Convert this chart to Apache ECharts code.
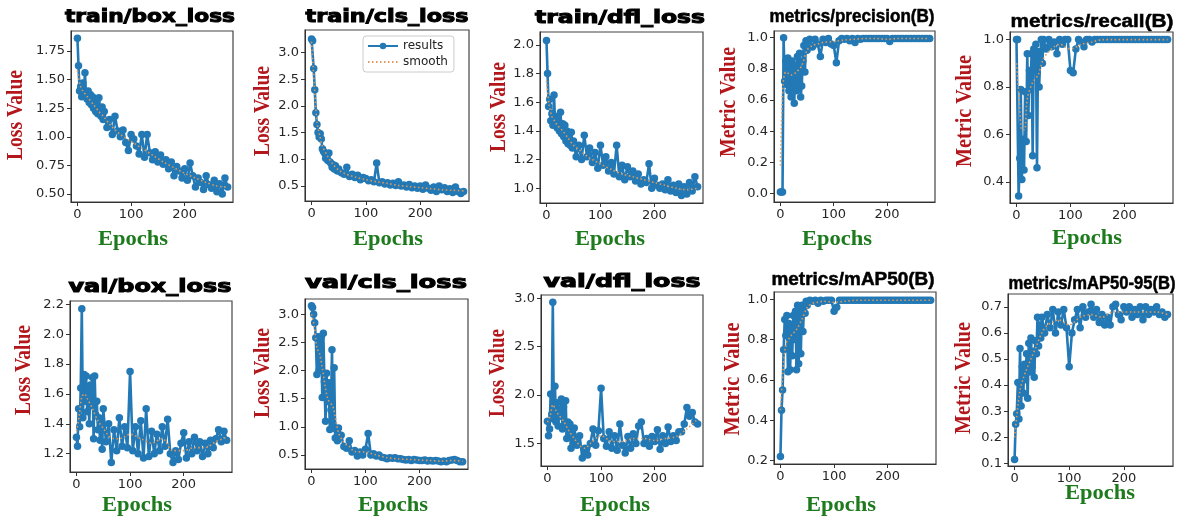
<!DOCTYPE html>
<html><head><meta charset="utf-8">
<script src="https://cdn.jsdelivr.net/npm/echarts@6/dist/echarts.min.js"></script>
<style>html,body{margin:0;padding:0;background:#fff}#c{width:1181px;height:517px}</style>
</head><body><div id="c"></div>
<script>
// ---------- DATA ----------
const epochs = [0,2,4,6,8,10,12,14,16,18,20,22,24,26,28,30,32,34,36,38,40,42,44,46,48,50,
  55,60,65,70,75,80,85,90,95,100,105,110,115,120,125,130,135,140,145,150,155,160,165,170,175,180,
  185,190,195,200,205,210,215,220,225,230,235,240,245,250,255,260,265,270,275,280];
const smoothEpochs = [0,5,10,15,20,30,40,50,60,70,80,100,120,140,160,180,200,220,240,260,280];

const trainBoxLoss = [1.86,1.62,1.40,1.44,1.35,1.47,1.38,1.56,1.36,1.33,1.40,1.30,1.37,1.28,1.35,1.25,1.33,1.22,1.30,1.20,1.34,1.22,1.18,1.26,1.15,1.22,
  1.08,1.15,1.02,1.18,1.05,1.00,1.06,0.95,0.88,1.02,0.98,0.92,0.85,1.02,0.82,1.02,0.86,0.80,0.87,0.78,0.84,0.76,0.80,0.72,0.78,0.66,0.74,0.70,0.64,0.72,0.62,0.77,0.66,0.56,0.64,0.60,0.54,0.66,0.58,0.55,0.62,0.52,0.59,0.50,0.64,0.56];
const trainClsLoss = [3.25,3.22,2.70,2.30,1.87,1.65,1.50,1.42,1.48,1.38,1.20,1.15,1.12,1.02,1.08,0.98,1.12,0.95,0.92,0.85,0.90,0.82,0.88,0.80,0.78,0.82,
  0.75,0.72,0.85,0.68,0.72,0.66,0.70,0.62,0.66,0.64,0.60,0.62,0.58,0.93,0.56,0.58,0.54,0.56,0.52,0.55,0.51,0.58,0.50,0.52,0.48,0.53,0.47,0.50,0.46,0.50,0.44,0.52,0.46,0.42,0.48,0.40,0.50,0.43,0.47,0.40,0.45,0.38,0.48,0.40,0.36,0.40];
const trainDflLoss = [2.03,1.80,1.57,1.62,1.47,1.52,1.44,1.65,1.45,1.50,1.42,1.48,1.40,1.53,1.38,1.45,1.36,1.44,1.33,1.40,1.31,1.36,1.30,1.39,1.28,1.33,
  1.22,1.30,1.20,1.37,1.22,1.28,1.18,1.25,1.14,1.30,1.16,1.22,1.12,1.18,1.10,1.30,1.08,1.16,1.06,1.15,1.08,1.12,1.05,1.10,1.03,1.06,1.04,1.17,1.00,1.07,1.02,1.00,1.03,0.99,1.06,0.98,1.02,0.97,1.03,0.95,1.01,0.96,1.04,0.98,1.08,1.01];
const precisionB = [0.01,0.01,0.01,1.00,0.72,0.85,0.70,0.87,0.66,0.82,0.62,0.85,0.75,0.58,0.82,0.66,0.88,0.70,0.90,0.62,0.69,0.85,0.95,0.78,0.98,0.92,
  0.99,0.94,0.99,0.96,0.88,0.99,0.97,0.995,0.96,0.95,0.84,0.98,0.995,0.99,0.995,0.98,0.995,0.97,0.995,0.99,0.995,0.995,0.995,0.995,0.995,0.995,0.995,0.995,0.995,0.995,0.975,0.995,0.995,0.995,0.995,0.995,0.995,0.995,0.995,0.995,0.995,0.995,0.995,0.995,0.995,0.995];
const recallB = [1.00,1.00,0.34,0.50,0.79,0.41,0.58,0.45,0.78,0.57,0.94,0.68,0.87,0.79,0.94,0.51,0.96,0.87,0.98,0.46,0.95,0.80,0.92,1.00,0.90,1.00,
  0.96,1.00,0.97,0.99,0.94,1.00,0.98,1.00,1.00,0.87,0.86,0.96,1.00,0.99,0.97,1.00,1.00,0.99,1.00,1.00,
  1.00,1.00,1.00,1.00,1.00,1.00,1.00,1.00,1.00,1.00,1.00,1.00,1.00,1.00,1.00,1.00,1.00,1.00,1.00,1.00,1.00,1.00,1.00,1.00,1.00,1.00];
const valBoxLoss = [1.31,1.25,1.50,1.38,1.64,2.17,1.44,1.73,1.55,1.72,1.48,1.62,1.40,1.66,1.52,1.71,1.30,1.72,1.46,1.55,1.36,1.44,1.29,1.40,1.23,1.50,
  1.28,1.40,1.14,1.36,1.22,1.44,1.25,1.38,1.24,1.75,1.22,1.38,1.20,1.42,1.17,1.50,1.18,1.35,1.20,1.33,1.22,1.38,1.25,1.43,1.20,1.14,1.22,1.16,1.27,1.34,1.17,1.28,1.20,1.31,1.22,1.28,1.18,1.27,1.20,1.29,1.24,1.30,1.36,1.28,1.35,1.29];
const valClsLoss = [3.15,3.12,3.00,2.85,2.58,1.93,2.60,2.00,2.45,2.60,1.52,2.66,1.80,1.10,1.95,1.45,1.78,0.95,1.30,2.37,1.05,2.05,0.80,0.95,0.75,0.98,
  0.85,0.65,0.62,0.75,0.55,0.58,0.48,0.55,0.50,0.60,0.88,0.50,0.52,0.48,0.50,0.46,0.45,0.43,0.45,0.44,0.45,0.43,0.43,0.42,0.41,0.42,0.40,0.42,0.41,0.40,0.40,0.41,0.39,0.40,0.39,0.40,0.39,0.38,0.39,0.38,0.40,0.41,0.42,0.40,0.38,0.38];
const valDflLoss = [1.73,1.58,1.65,2.01,1.80,2.96,1.75,2.09,1.72,1.92,1.68,1.85,1.78,1.96,1.65,1.88,1.70,1.94,1.55,1.72,1.60,1.70,1.45,1.62,1.50,1.66,
  1.48,1.58,1.35,1.45,1.38,1.50,1.65,1.48,1.63,2.07,1.55,1.47,1.62,1.45,1.58,1.43,1.70,1.48,1.40,1.57,1.45,1.60,1.50,1.68,1.72,1.50,1.55,1.47,1.57,1.52,1.64,1.44,1.58,1.50,1.67,1.52,1.58,1.53,1.62,1.62,1.70,1.87,1.78,1.82,1.72,1.70];
const mAP50B = [0.22,0.45,0.55,0.75,0.90,0.82,0.92,0.64,0.88,0.65,0.85,0.72,0.92,0.80,0.94,0.65,0.97,0.68,0.96,0.73,0.97,0.84,0.96,0.93,0.99,0.97,
  0.995,0.99,0.995,0.98,0.995,0.99,0.995,0.995,0.995,0.94,0.96,0.995,
  0.995,0.995,0.995,0.995,0.995,0.995,0.995,0.995,0.995,0.995,0.995,0.995,0.995,0.995,0.995,0.995,0.995,0.995,0.995,0.995,0.995,0.995,0.995,0.995,0.995,0.995,0.995,0.995,0.995,0.995,0.995,0.995,0.995,0.995];
const mAP5095B = [0.115,0.25,0.29,0.41,0.27,0.54,0.32,0.47,0.37,0.48,0.42,0.52,0.35,0.56,0.45,0.58,0.47,0.53,0.43,0.57,0.52,0.66,0.55,0.63,0.58,0.66,
  0.60,0.67,0.62,0.69,0.60,0.68,0.63,0.69,0.62,0.47,0.60,0.65,0.69,0.62,0.70,0.66,0.68,0.71,0.66,0.69,0.64,0.67,0.63,0.66,0.63,0.70,0.71,0.67,0.65,0.70,0.68,0.70,0.66,0.69,0.67,0.70,0.65,0.70,0.67,0.69,0.68,0.70,0.67,0.68,0.66,0.67];

const trainBoxSmooth = [1.58,1.45,1.40,1.37,1.34,1.28,1.22,1.17,1.11,1.06,1.02,0.96,0.90,0.84,0.78,0.73,0.68,0.64,0.60,0.57,0.56];
const trainClsSmooth = [3.20,2.40,1.70,1.45,1.25,1.05,0.90,0.80,0.74,0.70,0.67,0.62,0.58,0.55,0.51,0.49,0.47,0.45,0.43,0.42,0.41];
const trainDflSmooth = [1.75,1.58,1.50,1.47,1.44,1.40,1.35,1.30,1.27,1.24,1.21,1.17,1.13,1.10,1.08,1.06,1.04,1.02,1.00,0.99,1.00];
const precisionSmooth = [0.18,0.70,0.78,0.77,0.76,0.78,0.82,0.92,0.95,0.96,0.97,0.975,0.985,0.99,0.995,0.995,0.99,0.995,0.995,0.995,0.995];
const recallSmooth = [0.90,0.75,0.62,0.62,0.75,0.82,0.85,0.92,0.95,0.97,0.98,0.96,0.98,0.99,1.0,1.0,1.0,1.0,1.0,1.0,1.0];
const valBoxSmooth = [1.35,1.45,1.58,1.60,1.57,1.50,1.42,1.37,1.32,1.30,1.30,1.33,1.30,1.27,1.30,1.22,1.22,1.24,1.24,1.28,1.31];
const valClsSmooth = [3.00,2.80,2.40,2.30,2.05,1.50,1.35,0.90,0.72,0.65,0.56,0.55,0.50,0.45,0.43,0.42,0.41,0.40,0.39,0.40,0.39];
const valDflSmooth = [1.72,1.78,1.90,1.85,1.80,1.73,1.63,1.55,1.48,1.45,1.50,1.58,1.52,1.52,1.55,1.55,1.53,1.55,1.57,1.65,1.75];
const mAP50Smooth = [0.45,0.65,0.78,0.80,0.82,0.85,0.90,0.96,0.98,0.985,0.99,0.985,0.99,0.995,0.995,0.995,0.995,0.995,0.995,0.995,0.995];
const mAP5095Smooth = [0.20,0.30,0.38,0.42,0.45,0.50,0.55,0.60,0.63,0.64,0.65,0.63,0.66,0.67,0.66,0.68,0.68,0.68,0.68,0.68,0.67];

const xTicks = [0,100,200];
const ticksTrainBox = [0.50,0.75,1.00,1.25,1.50,1.75];
const ticksTrainCls = [0.5,1.0,1.5,2.0,2.5,3.0];
const ticksTrainDfl = [1.0,1.2,1.4,1.6,1.8,2.0];
const ticksPrecision = [0.0,0.2,0.4,0.6,0.8,1.0];
const ticksRecall = [0.4,0.6,0.8,1.0];
const ticksValBox = [1.2,1.4,1.6,1.8,2.0,2.2];
const ticksValCls = [0.5,1.0,1.5,2.0,2.5,3.0];
const ticksValDfl = [1.5,2.0,2.5,3.0];
const ticksMAP50 = [0.2,0.4,0.6,0.8,1.0];
const ticksMAP5095 = [0.1,0.2,0.3,0.4,0.5,0.6,0.7];

// ---------- LAYOUT ----------
const panels = [
  {title:'train/box_loss', heavy:true, tw:170, tx:150, ty:18, ylab:'Loss Value', ylx:16, yly:115, yll:90, elx:133, ely:240,
   g:[71,31,162,171], yr:[0.43,1.924], ticks:ticksTrainBox, dec:2, d:trainBoxLoss, s:trainBoxSmooth},
  {title:'train/cls_loss', heavy:true, tw:163, tx:387, ty:18, ylab:'Loss Value', ylx:263, yly:111, yll:90, elx:388, ely:240,
   g:[305,30,164,171], yr:[0.22,3.42], ticks:ticksTrainCls, dec:1, d:trainClsLoss, s:trainClsSmooth},
  {title:'train/dfl_loss', heavy:true, tw:170, tx:620, ty:19, ylab:'Loss Value', ylx:499, yly:107, yll:90, elx:610, ely:240,
   g:[540,32,163,171], yr:[0.897,2.09], ticks:ticksTrainDfl, dec:1, d:trainDflLoss, s:trainDflSmooth},
  {title:'metrics/precision(B)', heavy:false, tw:165, tx:852, ty:17, ylab:'Metric Value', ylx:729, yly:102, yll:110, elx:837, ely:240,
   g:[774,31,161,171], yr:[-0.054,1.043], ticks:ticksPrecision, dec:1, d:precisionB, s:precisionSmooth},
  {title:'metrics/recall(B)', heavy:false, tw:163, tx:1092, ty:22, ylab:'Metric Value', ylx:965, yly:111, yll:112, elx:1087, ely:239,
   g:[1010,32,163,171], yr:[0.311,1.032], ticks:ticksRecall, dec:1, d:recallB, s:recallSmooth},
  {title:'val/box_loss', heavy:true, tw:163, tx:150, ty:288, ylab:'Loss Value', ylx:24, yly:370, yll:90, elx:137, ely:506,
   g:[70,301,162,171], yr:[1.077,2.222], ticks:ticksValBox, dec:1, d:valBoxLoss, s:valBoxSmooth},
  {title:'val/cls_loss', heavy:true, tw:162, tx:386, ty:284, ylab:'Loss Value', ylx:263, yly:373, yll:90, elx:393, ely:506,
   g:[305,299,163,170], yr:[0.25,3.27], ticks:ticksValCls, dec:1, d:valClsLoss, s:valClsSmooth},
  {title:'val/dfl_loss', heavy:true, tw:157, tx:622, ty:283, ylab:'Loss Value', ylx:498, yly:373, yll:88, elx:615, ely:506,
   g:[541,295,162,171], yr:[1.266,3.035], ticks:ticksValDfl, dec:1, d:valDflLoss, s:valDflSmooth},
  {title:'metrics/mAP50(B)', heavy:false, tw:163, tx:853, ty:280, ylab:'Metric Value', ylx:733, yly:379, yll:113, elx:841, ely:506,
   g:[774,292,162,172], yr:[0.183,1.036], ticks:ticksMAP50, dec:1, d:mAP50B, s:mAP50Smooth},
  {title:'metrics/mAP50-95(B)', heavy:false, tw:167, tx:1092, ty:284, ylab:'Metric Value', ylx:964, yly:378, yll:112, elx:1100, ely:494,
   g:[1008,294,165,172], yr:[0.09,0.749], ticks:ticksMAP5095, dec:1, d:mAP5095B, s:mAP5095Smooth}
];

const BLUE = '#2379b5', ORANGE = '#dd9a5c', AX = '#333333';
const FONT_HEAVY = 'bold 17px "DejaVu Sans"';
const FONT_COND = 'bold 18px "Liberation Sans"';
const FONT_YLAB = 'bold 23px "Liberation Serif"';
const FONT_XLAB = 'bold 20px "Liberation Serif"';
const ctx = document.createElement('canvas').getContext('2d');
function tw(font, text){ ctx.font = font; return ctx.measureText(text).width; }

const grids = [], xAxes = [], yAxes = [], series = [], graphics = [];
panels.forEach((p, i) => {
  grids.push({left:p.g[0], top:p.g[1], width:p.g[2], height:p.g[3], show:true, borderColor:'#444', borderWidth:1.2, outerBoundsMode:'none', containLabel:false});
  xAxes.push({gridIndex:i, type:'value', min:-12, max:290,
    axisLine:{show:true, onZero:false, lineStyle:{color:AX, width:1}},
    axisTick:{show:true, customValues:xTicks, length:4, lineStyle:{color:AX}},
    axisLabel:{customValues:xTicks, fontSize:13, fontFamily:'DejaVu Sans', color:'#262626', margin:6},
    splitLine:{show:false}});
  yAxes.push({gridIndex:i, type:'value', min:p.yr[0], max:p.yr[1],
    axisLine:{show:true, onZero:false, lineStyle:{color:AX, width:1}},
    axisTick:{show:true, customValues:p.ticks, length:4, lineStyle:{color:AX}},
    axisLabel:{customValues:p.ticks, fontSize:13, fontFamily:'DejaVu Sans', color:'#262626', margin:6,
      formatter:(v)=>Number(v).toFixed(p.dec)},
    splitLine:{show:false}});
  series.push({type:'line', name:'results', xAxisIndex:i, yAxisIndex:i,
    data: epochs.map((e,j)=>[e, p.d[j]]), symbol:'circle', symbolSize:7.5, showAllSymbol:true,
    lineStyle:{color:BLUE, width:2.6}, itemStyle:{color:BLUE}, z:2, animation:false});
  series.push({type:'line', name:'smooth', xAxisIndex:i, yAxisIndex:i,
    data: smoothEpochs.map((e,j)=>[e, p.s[j]]), symbol:'none', showSymbol:false, smooth:0.3,
    lineStyle:{color:ORANGE, width:1.6, type:[1.5,2.5]}, itemStyle:{color:ORANGE}, z:3, animation:false});

  const tf = p.heavy ? FONT_HEAVY : FONT_COND;
  graphics.push({type:'text', x:p.tx, y:p.ty, scaleX: p.tw / tw(tf, p.title), silent:true,
    style:{text:p.title, font:tf, fill:'#000', stroke:'#000', lineWidth: p.heavy ? 1.0 : 0.5, textAlign:'center', textVerticalAlign:'middle'}});
  graphics.push({type:'text', x:p.ylx, y:p.yly, rotation:Math.PI/2, scaleX: p.yll / tw(FONT_YLAB, p.ylab), silent:true,
    style:{text:p.ylab, font:FONT_YLAB, fill:'#b3161b', textAlign:'center', textVerticalAlign:'middle'}});
  graphics.push({type:'text', x:p.elx, y:p.ely, scaleX: 70 / tw(FONT_XLAB, 'Epochs'), silent:true,
    style:{text:'Epochs', font:FONT_XLAB, fill:'#1d7a1d', textAlign:'center', textVerticalAlign:'middle'}});
});

const chart = echarts.init(document.getElementById('c'), null, {renderer:'canvas'});
chart.setOption({
  animation:false,
  backgroundColor:'#ffffff',
  grid:grids, xAxis:xAxes, yAxis:yAxes, series:series,
  legend:{data:['results', {name:'smooth', itemStyle:{opacity:0}}], orient:'vertical', left:363, top:36,
    itemWidth:30, itemHeight:8, itemGap:4, padding:[4,6,4,4],
    backgroundColor:'#fff', borderColor:'#cccccc', borderWidth:1, borderRadius:3,
    textStyle:{fontSize:12, fontFamily:'DejaVu Sans', color:'#222'}, selectedMode:false},
  graphic:graphics
});
</script></body></html>
